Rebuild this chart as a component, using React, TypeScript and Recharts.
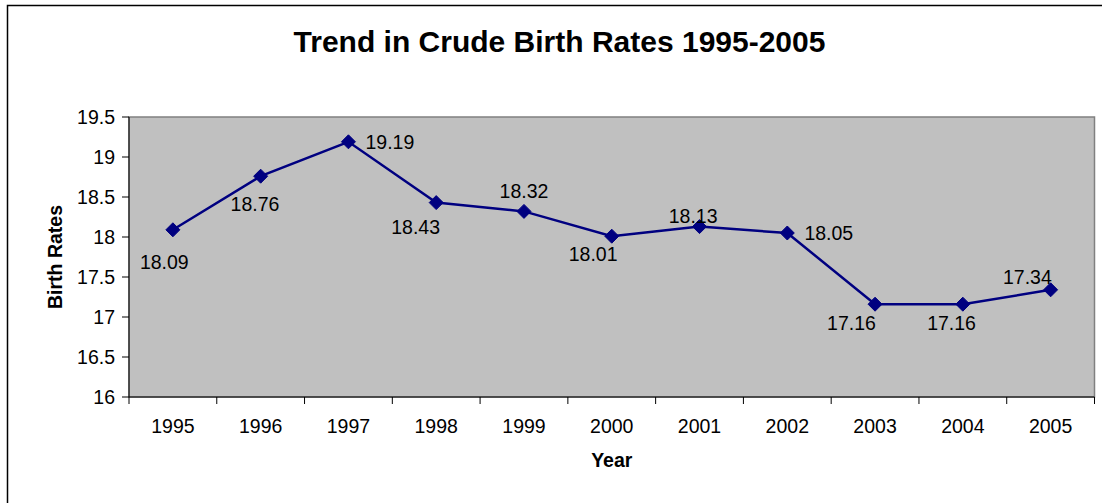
import React from 'react';
import { LineChart, Line, XAxis, YAxis, ReferenceArea, Label } from 'recharts';

const years = ['1995', '1996', '1997', '1998', '1999', '2000', '2001', '2002', '2003', '2004', '2005'];
const birthRates = [18.09, 18.76, 19.19, 18.43, 18.32, 18.01, 18.13, 18.05, 17.16, 17.16, 17.34];
const yTicks = [16, 16.5, 17, 17.5, 18, 18.5, 19, 19.5];
const chartTitle = 'Trend in Crude Birth Rates 1995-2005';
const xAxisTitle = 'Year';
const yAxisTitle = 'Birth Rates';

// label placement (offset of label centre from its point), layout only
const labelOffsets: [number, number][] = [
  [-8.6, 32.2],
  [-5.7, 27.6],
  [41.5, 0],
  [-20.6, 24.4],
  [0, -20],
  [-18.6, 17.8],
  [-6.4, -11],
  [41.5, 0],
  [-23.6, 18.4],
  [-11.3, 18.4],
  [-23.2, -13.3],
];

const data = years.map((year, i) => ({ year, rate: birthRates[i] }));

const FONT = '"Liberation Sans", Arial, Helvetica, sans-serif';
const W = 1102;
const H = 503;
const PLOT_LEFT = 129;
const PLOT_TOP = 117;
const PLOT_BOTTOM = 397;
const PLOT_RIGHT = 1094.5;

const Diamond = (props: any) => {
  const { cx, cy } = props;
  if (cx == null || cy == null) return null;
  const r = 7;
  return (
    <polygon
      points={`${cx},${cy - r} ${cx + r},${cy} ${cx},${cy + r} ${cx - r},${cy}`}
      fill="#000080"
      stroke="#000080"
      strokeWidth={1}
    />
  );
};

const PointLabel = (props: any) => {
  const { x, y, value, index } = props;
  if (x == null || y == null) return null;
  const [dx, dy] = labelOffsets[index] ?? [0, -15];
  return (
    <text
      x={x + dx}
      y={y + dy}
      textAnchor="middle"
      dominantBaseline="central"
      fontFamily={FONT}
      fontSize={19.5}
      fill="#000"
    >
      {value}
    </text>
  );
};

const XTick = (props: any) => {
  const { x, payload, index, visibleTicksCount, width } = props;
  const half = payload && payload.offset ? payload.offset : width / visibleTicksCount / 2;
  const left = x - half;
  const right = x + half;
  return (
    <g>
      <line x1={left} x2={left} y1={PLOT_BOTTOM} y2={PLOT_BOTTOM + 7} stroke="#000" strokeWidth={1} />
      {index === visibleTicksCount - 1 && (
        <line x1={right} x2={right} y1={PLOT_BOTTOM} y2={PLOT_BOTTOM + 7} stroke="#000" strokeWidth={1} />
      )}
      <text x={x} y={PLOT_BOTTOM + 36} textAnchor="middle" fontFamily={FONT} fontSize={19.5} fill="#000">
        {payload.value}
      </text>
    </g>
  );
};

export default function App() {
  return (
    <div style={{ position: 'absolute', left: 0, top: 0, width: W, height: H, overflow: 'hidden', background: '#fff' }}>
      <svg width={W} height={H} style={{ position: 'absolute', left: 0, top: 0 }}>
        <rect x={7.5} y={5.5} width={1200} height={700} fill="#fff" stroke="#000" strokeWidth={1.5} />
        <text x={559.5} y={52} textAnchor="middle" fontFamily={FONT} fontWeight="bold" fontSize={30} fill="#000">
          {chartTitle}
        </text>
      </svg>
      <div style={{ position: 'absolute', left: 0, top: 0 }}>
        <LineChart
          width={W}
          height={H}
          data={data}
          margin={{ top: PLOT_TOP, right: W - PLOT_RIGHT, bottom: 0, left: 0 }}
        >
          <XAxis
            dataKey="year"
            type="category"
            scale="band"
            height={H - PLOT_BOTTOM}
            axisLine={{ stroke: '#000', strokeWidth: 1 }}
            tickLine={false}
            tickSize={0}
            tickMargin={0}
            interval={0}
            tick={<XTick />}
          >
            <Label
              content={() => (
                <text
                  x={(PLOT_LEFT + PLOT_RIGHT) / 2}
                  y={466.7}
                  textAnchor="middle"
                  fontFamily={FONT}
                  fontWeight="bold"
                  fontSize={19.5}
                  fill="#000"
                >
                  {xAxisTitle}
                </text>
              )}
            />
          </XAxis>
          <YAxis
            type="number"
            domain={[16, 19.5]}
            ticks={yTicks}
            width={PLOT_LEFT}
            interval={0}
            allowDataOverflow
            axisLine={{ stroke: '#000', strokeWidth: 1 }}
            tickLine={{ stroke: '#000', strokeWidth: 1 }}
            tickSize={7}
            tickMargin={7}
            tick={{ fill: '#000', fontSize: 19.5, fontFamily: FONT }}
          >
            <Label
              content={() => (
                <text
                  x={61.5}
                  y={(PLOT_TOP + PLOT_BOTTOM) / 2}
                  transform={`rotate(-90, 61.5, ${(PLOT_TOP + PLOT_BOTTOM) / 2})`}
                  textAnchor="middle"
                  fontFamily={FONT}
                  fontWeight="bold"
                  fontSize={19.5}
                  fill="#000"
                >
                  {yAxisTitle}
                </text>
              )}
            />
          </YAxis>
          <ReferenceArea
            x1="1995"
            x2="2005"
            y1={16}
            y2={19.5}
            fill="#C0C0C0"
            fillOpacity={1}
            stroke="#808080"
            strokeWidth={1.5}
            ifOverflow="visible"
          />
          <Line
            type="linear"
            dataKey="rate"
            stroke="#000080"
            strokeWidth={2.5}
            dot={<Diamond />}
            activeDot={false}
            isAnimationActive={false}
            label={<PointLabel />}
          />
        </LineChart>
      </div>
    </div>
  );
}
